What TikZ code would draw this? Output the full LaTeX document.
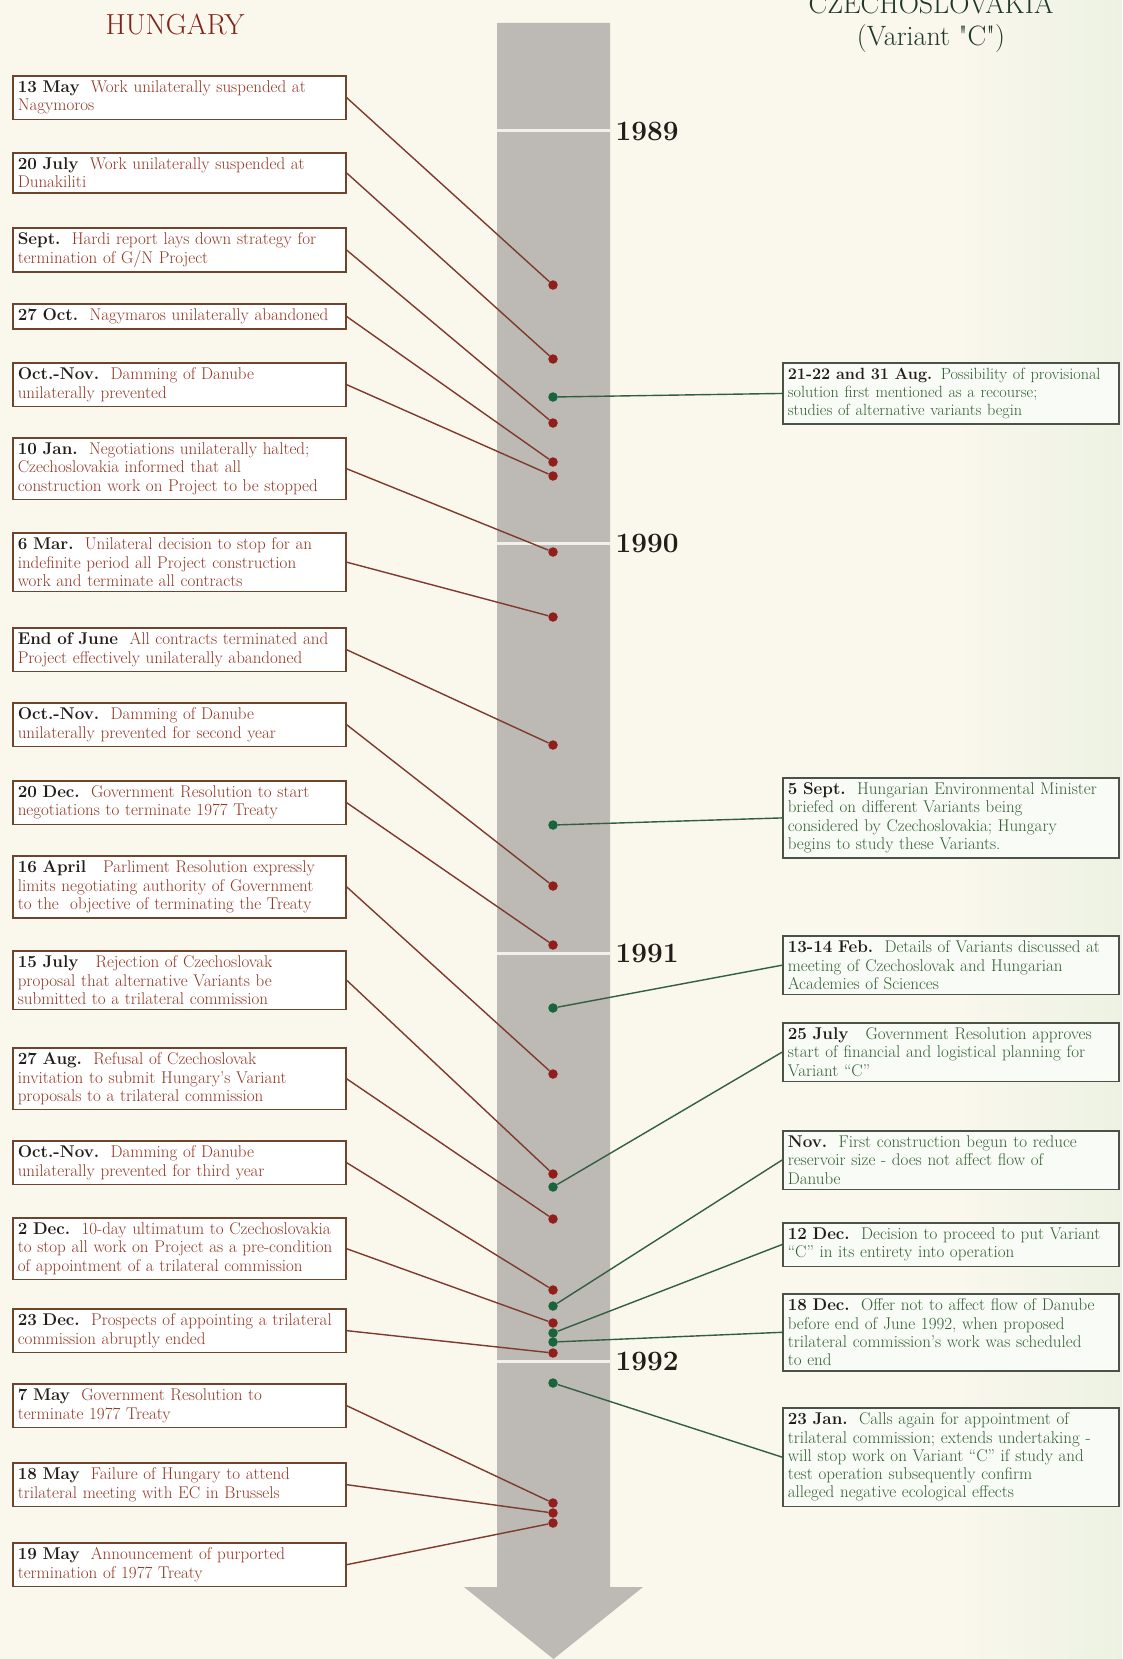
\documentclass[tikz,border=0pt]{standalone}
\usepackage{fontspec}
\newfontfamily\plainlm{Latin Modern Roman}
\usetikzlibrary{calc}
\definecolor{bgcream}{RGB}{250,247,237}
\definecolor{bggreen}{RGB}{236,242,226}
\definecolor{shaftgrey}{RGB}{189,185,180}
\definecolor{yearwhite}{RGB}{242,240,234}
\definecolor{hunred}{RGB}{145,30,28}
\definecolor{czgreen}{RGB}{25,100,60}
\definecolor{hunline}{RGB}{125,58,45}
\definecolor{czline}{RGB}{50,95,65}
\definecolor{hunframe}{RGB}{110,68,45}
\definecolor{czframe}{RGB}{75,82,72}
\definecolor{hunbody}{RGB}{145,55,35}
\definecolor{czbody}{RGB}{50,95,50}
\definecolor{datecol}{RGB}{35,28,25}
\definecolor{huntitle}{RGB}{128,36,26}
\definecolor{cztitle}{RGB}{32,56,42}
\newcommand{\evfont}{\fontsize{17}{18.3}\selectfont}
\newcommand{\evdate}[1]{\textcolor{datecol}{\textbf{#1}}}
\tikzset{
  hubox/.style={draw=hunframe, fill=white, line width=1.6pt, anchor=north west,
    text width=323pt, inner xsep=5pt, inner ysep=5pt, align=left,
    font=\evfont, text=hunbody},
  czbox/.style={draw=czframe, fill=white!70!bggreen, line width=1.6pt, anchor=north west,
    text width=326pt, inner xsep=5pt, inner ysep=5pt, align=left,
    font=\evfont, text=czbody},
  hudot/.style={circle, fill=hunred, inner sep=0pt, minimum size=9.5pt},
  czdot/.style={circle, fill=czgreen, inner sep=0pt, minimum size=9.5pt},
  hulink/.style={draw=hunline, line width=1.4pt},
  czlink/.style={draw=czline, line width=1.4pt},
  yearlabel/.style={anchor=west, font=\fontsize{28}{30}\selectfont\bfseries, text=datecol},
  yearmark/.style={draw=yearwhite, line width=3pt}
}
% Hungarian event: name, box top, dot y, text
\newcommand{\hunevent}[4]{\node[hubox] (#1) at (12,#2) {#4}; \node[hudot] (#1dot) at (553,#3) {}; \draw[hulink] (#1.east) -- (#1dot);}
% Czechoslovak event: name, box top, dot y, text
\newcommand{\czevent}[4]{\node[czbox] (#1) at (782,#2) {#4}; \node[czdot] (#1dot) at (553,#3) {}; \draw[czlink] (#1dot) -- (#1.west);}

\begin{document}
\begin{tikzpicture}[x=1pt,y=-1pt]
        \useasboundingbox (0,0) rectangle (1122,1659);
        \fill[bgcream] (0,0) rectangle (1122,1659);
        \shade[left color=bgcream, right color=bggreen] (960,0) rectangle (1122,1659);

        % time arrow
        \fill[shaftgrey] (497,23) -- (610,23) -- (610,1587) -- (643,1587) -- (553.5,1659) -- (464,1587) -- (497,1587) -- cycle;
        \foreach \yr/\yy in {1989/131,1990/543,1991/953,1992/1361}{
          \draw[yearmark] (497,\yy) -- (610,\yy);
          \node[yearlabel] (y\yr) at (612,\yy) {\yr};
        }

        % headings
        \node[font=\fontsize{29}{32}\selectfont, text=huntitle] (hungary) at (175,24) {HUNGARY};
        \node[font=\fontsize{28}{32}\selectfont, text=cztitle, align=center] (czech) at (931,23) {CZECHOSLOVAKIA\\(Variant {\plainlm"}C{\plainlm"})};

        % Hungary
        \hunevent{may13}{75}{285}{\evdate{13 May}\ \ Work unilaterally suspended at\\Nagymoros}
        \hunevent{jul20}{152}{359}{\evdate{20 July}\ \ Work unilaterally suspended at\\Dunakiliti}
        \hunevent{sept}{227}{423}{\evdate{Sept.}\ \ Hardi report lays down strategy for\\termination of G/N Project}
        \hunevent{oct27}{303}{462}{\evdate{27 Oct.}\ \ Nagymaros unilaterally abandoned}
        \hunevent{octnovA}{362}{476}{\evdate{Oct.-Nov.}\ \ Damming of Danube\\unilaterally prevented}
        \hunevent{jan10}{437}{552}{\evdate{10 Jan.}\ \ Negotiations unilaterally halted;\\Czechoslovakia informed that all\\construction work on Project to be stopped}
        \hunevent{mar6}{532}{617}{\evdate{6 Mar.}\ \ Unilateral decision to stop for an\\indefinite period all Project construction\\work and terminate all contracts}
        \hunevent{june}{627}{745}{\evdate{End of June}\ \ All contracts terminated and\\Project effectively unilaterally abandoned}
        \hunevent{octnovB}{702}{886}{\evdate{Oct.-Nov.}\ \ Damming of Danube\\unilaterally prevented for second year}
        \hunevent{dec20}{780}{945}{\evdate{20 Dec.}\ \ Government Resolution to start\\negotiations to terminate 1977 Treaty}
        \hunevent{apr16}{855}{1074}{\evdate{16 April}\ \ \ Parliment Resolution expressly\\limits negotiating authority of Government\\to the\ \ objective of terminating the Treaty}
        \hunevent{jul15}{950}{1174}{\evdate{15 July}\ \ \ Rejection of Czechoslovak\\proposal that alternative Variants be\\submitted to a trilateral commission}
        \hunevent{aug27}{1047}{1219}{\evdate{27 Aug.}\ \ Refusal of Czechoslovak\\invitation to submit Hungary’s Variant\\proposals to a trilateral commission}
        \hunevent{octnovC}{1140}{1290}{\evdate{Oct.-Nov.}\ \ Damming of Danube\\unilaterally prevented for third year}
        \hunevent{dec2}{1217}{1323}{\evdate{2 Dec.}\ \ 10-day ultimatum to Czechoslovakia\\to stop all work on Project as a pre-condition\\of appointment of a trilateral commission}
        \hunevent{dec23}{1308}{1353}{\evdate{23 Dec.}\ \ Prospects of appointing a trilateral\\commission abruptly ended}
        \hunevent{may7}{1383}{1503}{\evdate{7 May}\ \ Government Resolution to\\terminate 1977 Treaty}
        \hunevent{may18}{1462}{1513}{\evdate{18 May}\ \ Failure of Hungary to attend\\trilateral meeting with EC in Brussels}
        \hunevent{may19}{1542}{1523}{\evdate{19 May}\ \ Announcement of purported\\termination of 1977 Treaty}

        % Czechoslovakia
        \czevent{aug21}{362}{397}{\fontsize{16.2}{18.3}\selectfont\evdate{21-22 and 31 Aug.} Possibility of provisional\\solution first mentioned as a recourse;\\studies of alternative variants begin}
        \czevent{sept5}{777}{825}{\evdate{5 Sept.}\ \ Hungarian Environmental Minister\\briefed on different Variants being\\considered by Czechoslovakia; Hungary\\begins to study these Variants.}
        \czevent{feb13}{935}{1008}{\evdate{13-14 Feb.}\ \ Details of Variants discussed at\\meeting of Czechoslovak and Hungarian\\Academies of Sciences}
        \czevent{jul25}{1022}{1187}{\evdate{25 July}\ \ \ Government Resolution approves\\start of financial and logistical planning for\\Variant “C”}
        \czevent{nov}{1130}{1306}{\evdate{Nov.}\ \ First construction begun to reduce\\reservoir size - does not affect flow of\\Danube}
        \czevent{dec12}{1222}{1333}{\evdate{12 Dec.}\ \ Decision to proceed to put Variant\\“C” in its entirety into operation}
        \czevent{dec18}{1293}{1342}{\evdate{18 Dec.}\ \ Offer not to affect flow of Danube\\before end of June 1992, when proposed\\trilateral commission’s work was scheduled\\to end}
        \czevent{jan23}{1407}{1383}{\evdate{23 Jan.}\ \ Calls again for appointment of\\trilateral commission; extends undertaking -\\will stop work on Variant “C” if study and\\test operation subsequently confirm\\alleged negative ecological effects}
    \end{tikzpicture}
\end{document}
